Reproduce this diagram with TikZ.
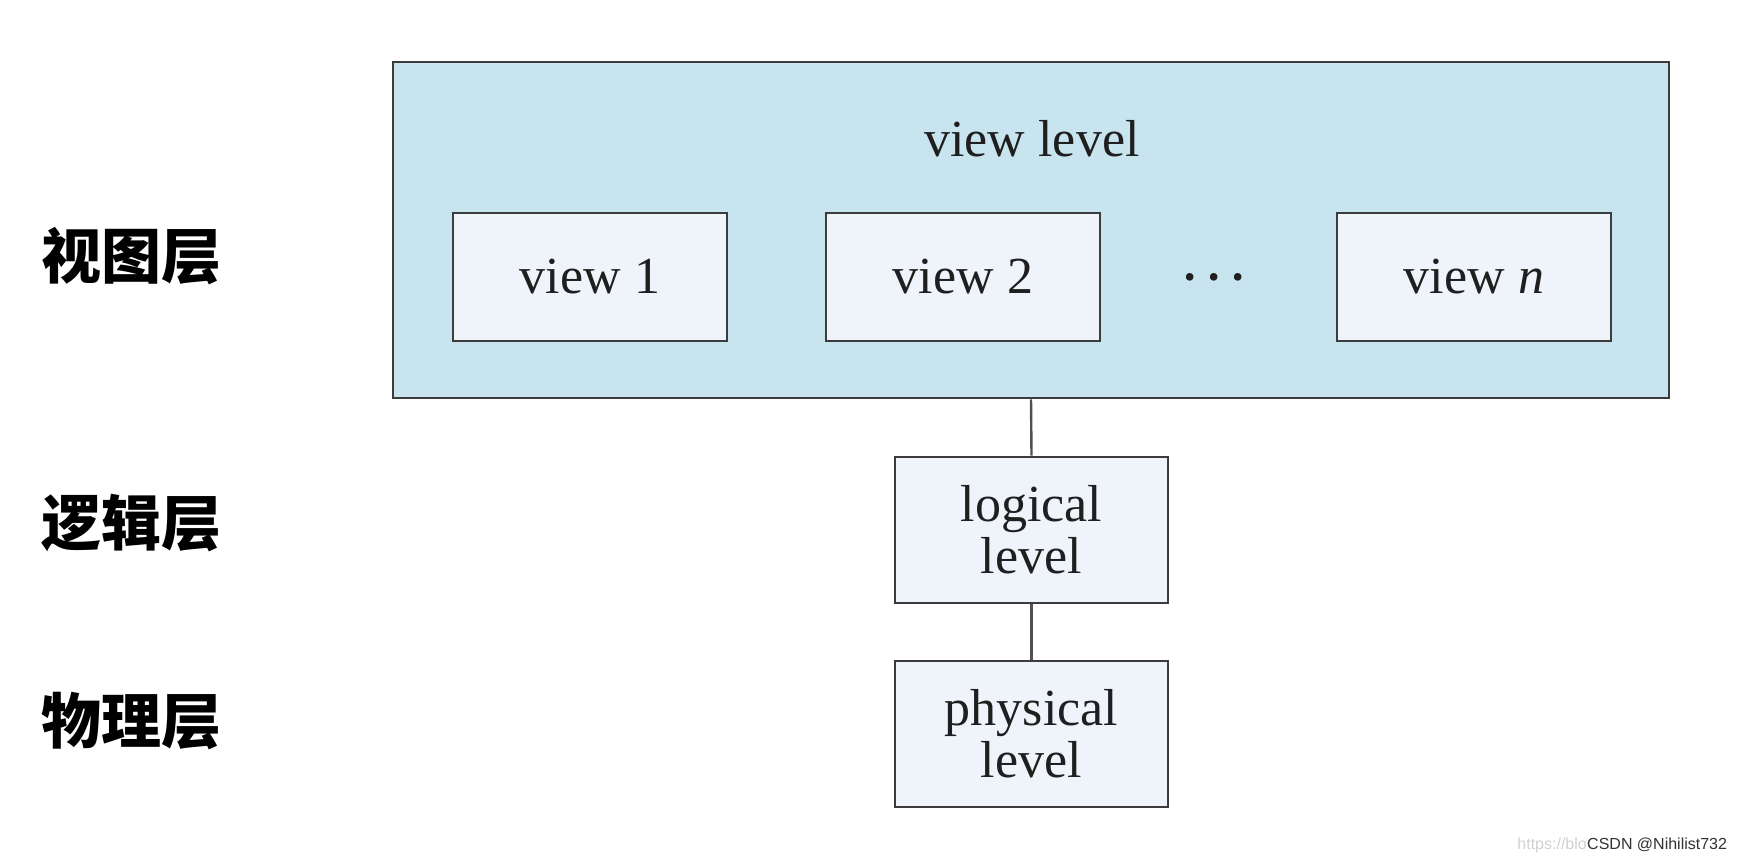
\documentclass[tikz,border=0pt]{standalone}
\usepackage{fontspec}
\setmainfont{Liberation Serif}
\newfontfamily\cjk{Noto Sans CJK SC}
\newfontfamily\wmfont{Liberation Sans}
\definecolor{outerfill}{HTML}{C8E4EF}
\definecolor{innerfill}{HTML}{EEF4FA}
\definecolor{edge}{HTML}{3C3C3C}
\begin{document}
\begin{tikzpicture}[x=1pt,y=-1pt,
  serif/.style={font=\fontsize{52}{52}\selectfont, text=black!88},
  outerbox/.style={draw=edge, line width=2.6pt, fill=outerfill, minimum width=1276pt, minimum height=336pt, inner sep=0pt},
  innerbox/.style={serif, draw=edge, line width=2.6pt, fill=innerfill, inner sep=0pt, align=center},
  viewbox/.style={innerbox, minimum width=274pt, minimum height=128pt},
  levelbox/.style={innerbox, minimum width=273pt, minimum height=146pt},
  lbl/.style={font=\cjk\bfseries\fontsize{60}{60}\selectfont, inner sep=0pt},
  link/.style={draw=edge!90, line width=2.4pt},
  wm/.style={font=\wmfont\fontsize{16}{16}\selectfont, inner sep=0pt}]
\useasboundingbox[fill=white] (0,0) rectangle (1744,860);
\node[outerbox] (outer) at (1031,230) {};
\node[serif] (vlevel) at (1032,139) {view level};
\node[viewbox] (v1) at (590,277) {view 1};
\node[viewbox] (v2) at (963,277) {view 2};
\node[serif, font=\fontsize{64}{64}\selectfont, inner sep=0pt] (dots) at (1214,286) {·\hspace{3pt}·\hspace{3pt}·};
\node[viewbox] (vn) at (1474,277) {view \textit{n}};
\node[levelbox] (logical) at (1031.5,530) {logical\\level};
\node[levelbox] (physical) at (1031.5,734) {physical\\level};
\draw[link] (outer.south) -- (logical.north);
\draw[link] (logical.south) -- (physical.north);
\node[lbl] (l1) at (131,256) {视图层};
\node[lbl] (l2) at (131,523) {逻辑层};
\node[lbl] (l3) at (131,721) {物理层};
\node[wm, anchor=west, text=black!80] (csdn) at (1587,845) {CSDN @Nihilist732};
\node[wm, anchor=east, text=black!18] (url) at (csdn.west) {https://blo};
\end{tikzpicture}
\end{document}
